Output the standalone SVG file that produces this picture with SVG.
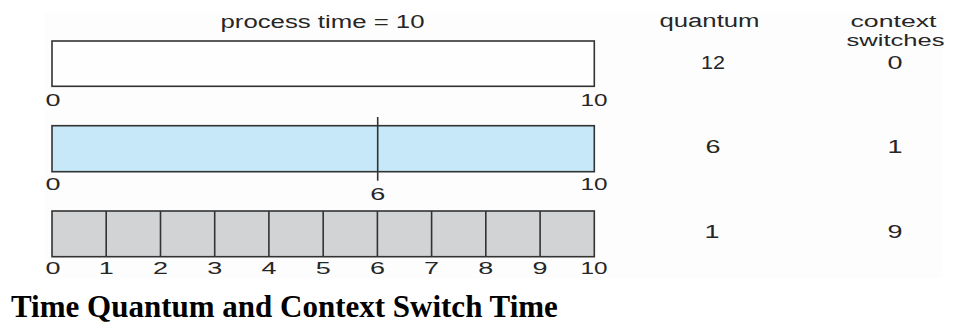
<svg xmlns="http://www.w3.org/2000/svg" width="957" height="322" viewBox="0 0 957 322">
  <style>
    .lbl { font-family: "Liberation Sans", Arial, sans-serif; font-size: 18px; fill: #262626; text-anchor: middle; }
    .hd2 { font-family: "Liberation Sans", Arial, sans-serif; font-size: 16.5px; fill: #262626; text-anchor: middle; }
    .ax { font-family: "Liberation Sans", Arial, sans-serif; font-size: 16px; fill: #262626; text-anchor: middle; }
    .bar { stroke: #333; stroke-width: 1.6; }
    .tick { stroke: #333; stroke-width: 1.6; fill: none; }
    .cap { font-family: "Liberation Serif", "Times New Roman", serif; font-weight: bold; font-size: 31px; fill: #000; }
  </style>

  <rect width="957" height="322" fill="#ffffff"/>
  <rect x="45" y="12" width="898" height="266" fill="#fdfdfd"/>

  <!-- headings -->
  <g id="header">
    <text class="lbl" x="322.5" y="28" textLength="204" lengthAdjust="spacingAndGlyphs">process time = 10</text>
    <text class="lbl" x="709.5" y="27" textLength="100" lengthAdjust="spacingAndGlyphs">quantum</text>
    <text class="hd2" x="893.5" y="26.5" textLength="86" lengthAdjust="spacingAndGlyphs">context</text>
    <text class="hd2" x="895.5" y="45.5" textLength="98" lengthAdjust="spacingAndGlyphs">switches</text>
  </g>

  <!-- quantum 12: one burst, no switch -->
  <g id="row-q12">
    <rect class="bar" x="52" y="41" width="542.3" height="45.3" fill="#fefefe"/>
    <text class="ax" x="53" y="105.5" textLength="15" lengthAdjust="spacingAndGlyphs">0</text>
    <text class="ax" x="594" y="105.5" textLength="27" lengthAdjust="spacingAndGlyphs">10</text>
    <text class="lbl" x="713" y="69" textLength="24" lengthAdjust="spacingAndGlyphs">12</text>
    <text class="lbl" x="895" y="69" textLength="15" lengthAdjust="spacingAndGlyphs">0</text>
  </g>

  <!-- quantum 6: split at 6 -->
  <g id="row-q6">
    <rect class="bar" x="52" y="125.7" width="542.3" height="46" fill="#c6e8f8"/>
    <line class="tick" x1="377.7" y1="117" x2="377.7" y2="180.7"/>
    <text class="ax" x="53" y="190" textLength="15" lengthAdjust="spacingAndGlyphs">0</text>
    <text class="ax" x="377.7" y="200" textLength="15" lengthAdjust="spacingAndGlyphs">6</text>
    <text class="ax" x="594" y="190" textLength="27" lengthAdjust="spacingAndGlyphs">10</text>
    <text class="lbl" x="713" y="153" textLength="15" lengthAdjust="spacingAndGlyphs">6</text>
    <text class="lbl" x="895" y="153" textLength="15" lengthAdjust="spacingAndGlyphs">1</text>
  </g>

  <!-- quantum 1: ten unit slices -->
  <g id="row-q1">
    <rect class="bar" x="52" y="211" width="542.3" height="45.7" fill="#d1d3d4"/>
    <path class="tick" d="M106.2 211V256.7M160.5 211V256.7M214.7 211V256.7M268.9 211V256.7M323.2 211V256.7M377.4 211V256.7M431.6 211V256.7M485.8 211V256.7M540.1 211V256.7"/>
    <text class="ax" x="53" y="274" textLength="15" lengthAdjust="spacingAndGlyphs">0</text>
    <text class="ax" x="106.2" y="274" textLength="15" lengthAdjust="spacingAndGlyphs">1</text>
    <text class="ax" x="160.5" y="274" textLength="15" lengthAdjust="spacingAndGlyphs">2</text>
    <text class="ax" x="214.7" y="274" textLength="15" lengthAdjust="spacingAndGlyphs">3</text>
    <text class="ax" x="268.9" y="274" textLength="15" lengthAdjust="spacingAndGlyphs">4</text>
    <text class="ax" x="323.2" y="274" textLength="15" lengthAdjust="spacingAndGlyphs">5</text>
    <text class="ax" x="377.4" y="274" textLength="15" lengthAdjust="spacingAndGlyphs">6</text>
    <text class="ax" x="431.6" y="274" textLength="15" lengthAdjust="spacingAndGlyphs">7</text>
    <text class="ax" x="485.8" y="274" textLength="15" lengthAdjust="spacingAndGlyphs">8</text>
    <text class="ax" x="540.1" y="274" textLength="15" lengthAdjust="spacingAndGlyphs">9</text>
    <text class="ax" x="594" y="274" textLength="27" lengthAdjust="spacingAndGlyphs">10</text>
    <text class="lbl" x="712" y="238" textLength="15" lengthAdjust="spacingAndGlyphs">1</text>
    <text class="lbl" x="895" y="238" textLength="15" lengthAdjust="spacingAndGlyphs">9</text>
  </g>

  <text class="cap" x="11" y="316.5">Time Quantum and Context Switch Time</text>
</svg>
